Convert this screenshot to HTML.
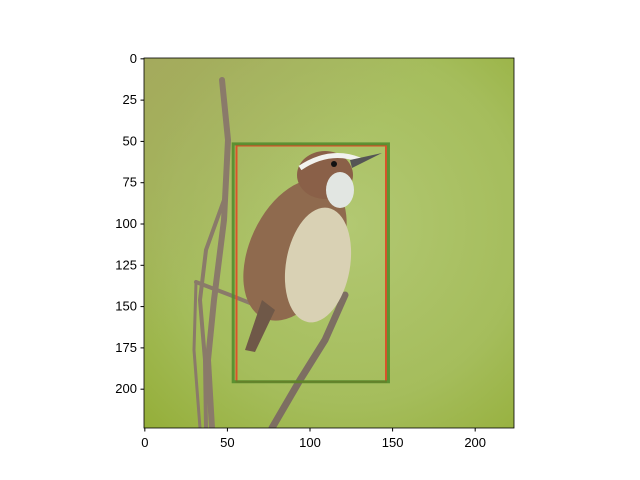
<!DOCTYPE html>
<html><head><meta charset="utf-8"><style>
body{margin:0;background:#fff;}
svg{display:block;font-family:"Liberation Sans",sans-serif;}
</style></head><body>
<svg id="chart" width="640" height="480">
<defs>
<radialGradient id="bg" cx="0.55" cy="0.45" r="0.8">
<stop offset="0" stop-color="#b2c872"/>
<stop offset="0.6" stop-color="#a5bd5c"/>
<stop offset="1" stop-color="#93ad36"/>
</radialGradient>
<linearGradient id="tl" x1="0" y1="0" x2="1" y2="1">
<stop offset="0" stop-color="#a7a865" stop-opacity="0.8"/>
<stop offset="0.4" stop-color="#a7a865" stop-opacity="0"/>
</linearGradient>
<clipPath id="clip"><rect x="144" y="58" width="370" height="370"/></clipPath>
</defs>
<g clip-path="url(#clip)">
<rect x="144" y="58" width="370" height="370" fill="url(#bg)"/>
<rect x="144" y="58" width="370" height="370" fill="url(#tl)"/>
<g stroke="#8a7a6a" stroke-linecap="round" fill="none">
<path d="M222 80 L228 140 L224 220 L214 300 L208 360 L212 428" stroke-width="6"/>
<path d="M224 200 L206 250 L200 300 L205 360 L206 428" stroke-width="4"/>
<path d="M196 282 L230 295 L280 315" stroke-width="4"/>
<path d="M196 282 L194 350 L200 428" stroke-width="3"/>
<path d="M345 295 L325 340 L300 380 L272 428" stroke-width="7" stroke="#7d6e62"/>
</g>
<g>
<ellipse cx="295" cy="250" rx="45" ry="75" transform="rotate(25 295 250)" fill="#8f6a4e"/>
<ellipse cx="318" cy="265" rx="32" ry="58" transform="rotate(10 318 265)" fill="#d9d1b4"/>
<ellipse cx="325" cy="175" rx="28" ry="24" fill="#8a6048"/>
<path d="M300 168 Q330 148 360 160" stroke="#f2f2ee" stroke-width="5" fill="none"/>
<ellipse cx="340" cy="190" rx="14" ry="18" fill="#e2e6e2"/>
<circle cx="334" cy="164" r="3" fill="#111"/>
<path d="M350 160 L382 153 L352 168 Z" fill="#555"/>
<path d="M262 300 L245 350 L255 352 L275 310 Z" fill="#6f5848"/>
</g>
</g>
<g id="boxes"></g>
<g id="axes"></g>
</svg>
<script>
var tickValues=[0,25,50,75,100,125,150,175,200];
var xTickValues=[0,50,100,150,200];
var boxNames=["ground-truth-box","predicted-box"];
var boxX1=[53.5,55.5];
var boxY1=[51.5,52.5];
var boxX2=[147.5,146];
var boxY2=[195.5,195.5];
var boxColors=["#4f8a2a","#d9532a"];
var ns="http://www.w3.org/2000/svg";
var L=144,T=58,S=370/224;
function xs(v){return L+(v+0.5)*S;}
function ys(v){return T+(v+0.5)*S;}
var bg=document.getElementById('boxes');
for(var i=boxNames.length-1;i>=0;i--){
var r=document.createElementNS(ns,'rect');


r.setAttribute('x',xs(boxX1[i]));r.setAttribute('y',ys(boxY1[i]));
r.setAttribute('width',xs(boxX2[i])-xs(boxX1[i]));r.setAttribute('height',ys(boxY2[i])-ys(boxY1[i]));
r.setAttribute('fill','none');r.setAttribute('stroke',boxColors[i]);r.setAttribute('stroke-width',i==0?3:2);
r.setAttribute('opacity',i==0?0.85:1);
bg.appendChild(r);
}
var ax=document.getElementById('axes');
var fr=document.createElementNS(ns,'rect');


fr.setAttribute('x',L);fr.setAttribute('y',T);fr.setAttribute('width',370);fr.setAttribute('height',370);
fr.setAttribute('fill','none');fr.setAttribute('stroke','#000');fr.setAttribute('stroke-width',0.8);
ax.appendChild(fr);
tickValues.forEach(function(v){
var y=ys(v);
var l=document.createElementNS(ns,'line');


l.setAttribute('x1',L-3.5);l.setAttribute('x2',L);l.setAttribute('y1',y);l.setAttribute('y2',y);l.setAttribute('stroke','#000');
ax.appendChild(l);
var t=document.createElementNS(ns,'text');


t.setAttribute('x',L-7);t.setAttribute('y',y+4);t.setAttribute('text-anchor','end');t.setAttribute('font-size','13');
t.textContent=v;ax.appendChild(t);
});
xTickValues.forEach(function(v){
var x=xs(v);
var l=document.createElementNS(ns,'line');


l.setAttribute('x1',x);l.setAttribute('x2',x);l.setAttribute('y1',T+370);l.setAttribute('y2',T+373.5);l.setAttribute('stroke','#000');
ax.appendChild(l);
var t=document.createElementNS(ns,'text');


t.setAttribute('x',x);t.setAttribute('y',T+389);t.setAttribute('text-anchor','middle');t.setAttribute('font-size','13');
t.textContent=v;ax.appendChild(t);
});
</script>
</body></html>
